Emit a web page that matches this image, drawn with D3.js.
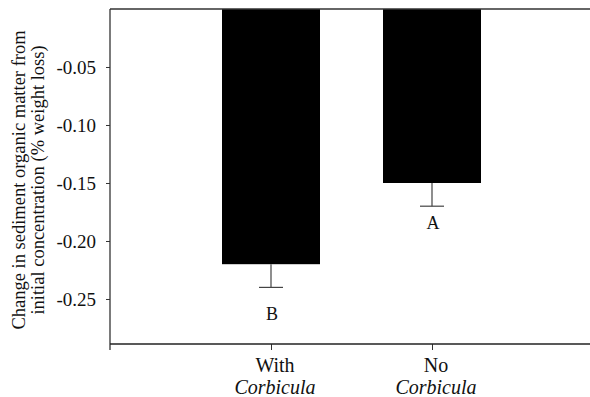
<!DOCTYPE html>
<meta charset="utf-8">
<style>
	body { margin: 0; background: #fff; }
	svg text { font-family: "Liberation Serif", serif !important; fill: #111; }
</style>
<body>
<script src="https://cdn.jsdelivr.net/npm/d3@7/dist/d3.min.js"></script>
<script>

	//Data
	var groups = ["With", "No"];
	var values = [-0.22, -0.15];
	var errors = [0.02, 0.02];
	var letters = ["B", "A"];
	var letterY = [-0.268, -0.19];
	var yTicks = [-0.05, -0.10, -0.15, -0.20, -0.25];

	var width = 590, height = 397;
	var serif = "'Liberation Serif', serif";

	var svg = d3.select("body")
		.append("svg")
		.attr("width", width)
		.attr("height", height)
		.attr("font-family", serif);

	//Scales
	var x = d3.scalePoint()
		.domain(groups)
		.range([110, 593])
		.padding(1);

	var y = d3.scaleLinear()
		.domain([-0.2888, 0])
		.range([344, 9]);

	var barW = 98;

	//Bars
	svg.selectAll("rect.bar")
		.data(groups)
		.enter()
		.append("rect")
		.attr("class", "bar")
		.attr("x", function(d) { return x(d) - barW / 2; })
		.attr("y", y(0))
		.attr("width", barW)
		.attr("height", function(d, i) { return y(values[i]) - y(0); })
		.attr("fill", "#000");

	//Error bars (downward only)
	var err = svg.selectAll("g.err")
		.data(groups)
		.enter()
		.append("g")
		.attr("class", "err")
		.attr("stroke", "#444")
		.attr("stroke-width", 1.2);

	err.append("line")
		.attr("x1", function(d) { return x(d); })
		.attr("x2", function(d) { return x(d); })
		.attr("y1", function(d, i) { return y(values[i]); })
		.attr("y2", function(d, i) { return y(values[i] - errors[i]); });

	err.append("line")
		.attr("x1", function(d) { return x(d) - 12; })
		.attr("x2", function(d) { return x(d) + 12; })
		.attr("y1", function(d, i) { return y(values[i] - errors[i]); })
		.attr("y2", function(d, i) { return y(values[i] - errors[i]); });

	//Significance letters
	svg.selectAll("text.letter")
		.data(groups)
		.enter()
		.append("text")
		.attr("class", "letter")
		.attr("x", function(d) { return x(d) + 1; })
		.attr("y", function(d, i) { return y(letterY[i]); })
		.attr("text-anchor", "middle")
		.attr("font-family", serif)
		.attr("font-size", "18px")
		.text(function(d, i) { return letters[i]; });

	//Y axis
	var yAxis = d3.axisLeft(y)
		.tickValues(yTicks)
		.tickFormat(function(d) { return d3.format(".2f")(d).replace("\u2212", "-"); })
		.tickSize(4)
		.tickPadding(10);

	var gy = svg.append("g")
		.attr("transform", "translate(110,0)")
		.call(yAxis)
		.attr("font-family", serif)
		.attr("font-size", 19);
	gy.select(".domain").remove();
	gy.selectAll("line").attr("stroke", "#333");
	gy.selectAll("text")
		.attr("fill", "#111")
		.attr("dy", "0.36em");

	gy.append("line")
		.attr("x1", 0).attr("x2", 0)
		.attr("y1", 9).attr("y2", 350)
		.attr("stroke", "#333")
		.attr("stroke-width", 1.3);

	//Top frame line
	svg.append("line")
		.attr("x1", 110).attr("x2", 590)
		.attr("y1", 9).attr("y2", 9)
		.attr("stroke", "#333")
		.attr("stroke-width", 1.3);

	//X axis
	var xAxis = d3.axisBottom(x)
		.tickSize(6)
		.tickFormat("");

	var gx = svg.append("g")
		.attr("transform", "translate(0,344)")
		.call(xAxis);
	gx.select(".domain").remove();
	gx.selectAll("line").attr("stroke", "#333");

	gx.append("line")
		.attr("x1", 110).attr("x2", 590)
		.attr("y1", 0).attr("y2", 0)
		.attr("stroke", "#222")
		.attr("stroke-width", 1.3);

	//X category labels: plain word over italic genus
	var xl = svg.selectAll("text.xlab")
		.data(groups)
		.enter()
		.append("text")
		.attr("class", "xlab")
		.attr("text-anchor", "middle")
		.attr("font-family", serif)
		.attr("font-size", "20px");

	xl.append("tspan")
		.attr("x", function(d) { return x(d) + 4; })
		.attr("y", 372)
		.text(function(d) { return d; });

	xl.append("tspan")
		.attr("x", function(d) { return x(d) + 4; })
		.attr("y", 394)
		.attr("font-style", "italic")
		.text("Corbicula");

	//Y axis title
	var yt = svg.append("text")
		.attr("transform", "translate(0,180) rotate(-90)")
		.attr("text-anchor", "middle")
		.attr("font-family", serif)
		.attr("font-size", "18.5px");

	yt.append("tspan")
		.attr("x", 0)
		.attr("y", 25)
		.text("Change in sediment organic matter from");

	yt.append("tspan")
		.attr("x", 0)
		.attr("y", 44)
		.text("initial concentration (% weight loss)");

</script>
</body>
